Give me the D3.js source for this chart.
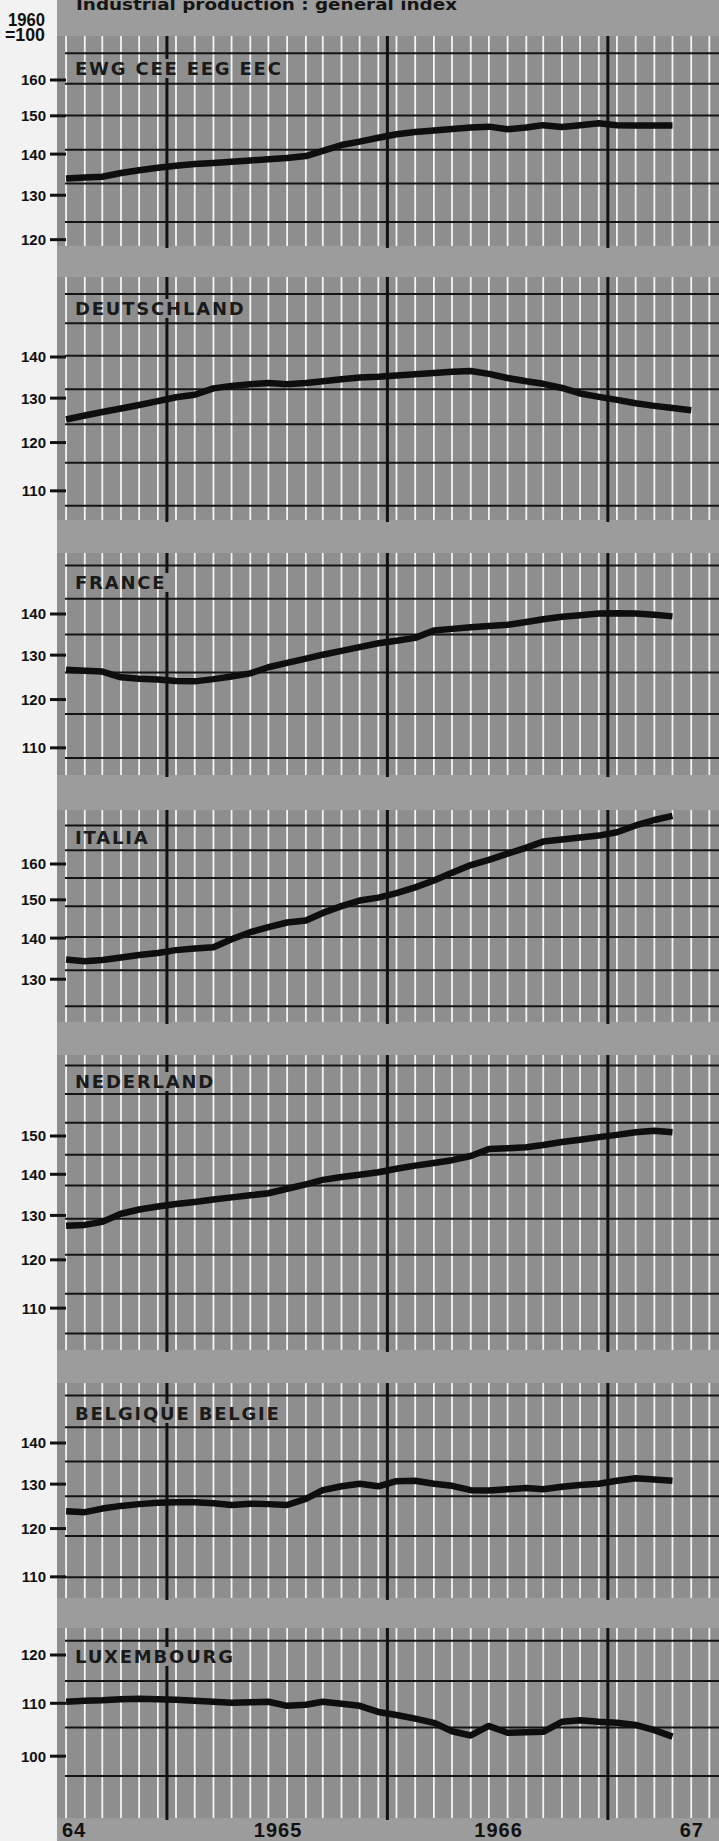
<!DOCTYPE html>
<html>
<head>
<meta charset="utf-8">
<script src="https://cdn.jsdelivr.net/npm/d3@7"></script>
<style>
  body { margin: 0; background: #f2f2f2; }
  svg { display: block; }
</style>
</head>
<body>
<div id="chart"></div>
<script>
// monthly index values, 1960 = 100, Jan 1964 onwards
var ewg = [134.0, 134.2, 134.4, 135.3, 136.0, 136.6, 137.1, 137.5, 137.8, 138.1, 138.4, 138.7,
           139.0, 139.5, 140.8, 142.3, 143.2, 144.2, 145.1, 145.7, 146.1, 146.5, 146.9, 147.1,
           146.4, 146.9, 147.5, 147.0, 147.5, 148.0, 147.5, 147.4, 147.4, 147.4];
var deutschland = [125.1, 126.0, 126.8, 127.6, 128.4, 129.3, 130.2, 130.8, 132.3, 132.9, 133.3, 133.6,
                   133.3, 133.6, 134.0, 134.5, 134.9, 135.1, 135.4, 135.7, 136.0, 136.3, 136.5, 135.8,
                   134.8, 134.0, 133.4, 132.4, 131.1, 130.3, 129.6, 128.8, 128.2, 127.7, 127.2];
var france = [126.6, 126.4, 126.2, 124.9, 124.6, 124.4, 124.1, 124.0, 124.5, 125.1, 125.8, 127.2,
              128.2, 129.2, 130.1, 131.0, 131.9, 132.8, 133.4, 134.1, 135.9, 136.3, 136.7, 137.0,
              137.3, 138.0, 138.7, 139.3, 139.7, 140.1, 140.2, 140.1, 139.8, 139.4];
var italia = [134.7, 134.3, 134.6, 135.2, 135.8, 136.3, 137.0, 137.4, 137.7, 139.7, 141.5, 142.8,
              144.0, 144.5, 146.5, 148.3, 149.8, 150.6, 151.8, 153.4, 155.3, 157.5, 159.7, 161.2,
              163.0, 164.8, 166.6, 167.2, 167.8, 168.4, 169.4, 171.5, 173.2, 174.5];
var nederland = [127.6, 127.8, 128.5, 130.4, 131.4, 132.1, 132.7, 133.2, 133.8, 134.3, 134.8, 135.3,
                 136.4, 137.5, 138.6, 139.3, 139.9, 140.5, 141.4, 142.2, 142.9, 143.6, 144.7, 146.5,
                 146.7, 147.0, 147.6, 148.4, 149.0, 149.7, 150.3, 151.0, 151.4, 151.0];
var belgique = [123.8, 123.6, 124.4, 125.0, 125.4, 125.7, 125.8, 125.8, 125.6, 125.2, 125.5, 125.4,
                125.2, 126.6, 128.6, 129.5, 130.1, 129.5, 130.7, 130.8, 130.1, 129.6, 128.6, 128.5,
                128.8, 129.1, 128.8, 129.4, 129.8, 130.1, 130.8, 131.4, 131.1, 130.8];
var luxembourg = [110.3, 110.5, 110.6, 110.8, 110.9, 110.8, 110.7, 110.5, 110.3, 110.1, 110.2, 110.3,
                  109.5, 109.7, 110.3, 109.9, 109.5, 108.3, 107.7, 107.0, 106.2, 104.6, 103.8, 105.6,
                  104.3, 104.4, 104.5, 106.4, 106.7, 106.4, 106.2, 105.8, 104.8, 103.6];

// tick labels on each panel
var ewgTicks = [160, 150, 140, 130, 120];
var deTicks = [140, 130, 120, 110];
var frTicks = [140, 130, 120, 110];
var itTicks = [160, 150, 140, 130];
var nlTicks = [150, 140, 130, 120, 110];
var beTicks = [140, 130, 120, 110];
var luTicks = [120, 110, 100];

// printed background rules (they do not sit on the ticks)
var ewgGrid = [167.9, 158.9, 150.1, 141.1, 132.8, 123.9];
var deGrid = [156.8, 148.8, 140.3, 132.1, 124.0, 115.7, 107.1];
var frGrid = [152.8, 143.9, 134.9, 126.0, 116.9, 108.0];
var itGrid = [171.5, 164.0, 156.0, 148.3, 140.3, 132.1, 123.8];
var nlGrid = [170.3, 161.8, 153.6, 145.0, 137.2, 129.2, 121.1, 112.9, 105.1];
var beGrid = [152.5, 144.0, 135.4, 127.2, 118.4, 109.9];
var luGrid = [123.1, 114.5, 105.3, 96.5];

var yearLabels = ["64", "1965", "1966", "67"];
var yearDates = [new Date(1964, 0, 1), new Date(1965, 0, 1), new Date(1966, 0, 1), new Date(1967, 0, 1)];
var midYears = [new Date(1964, 6, 1), new Date(1965, 6, 1), new Date(1966, 6, 1)];
var months = d3.range(36).map(m => new Date(1964, m, 16));

// layout of the seven strips
var panels = [
  {name: "EWG CEE EEG EEC", values: ewg, ticks: ewgTicks, grid: ewgGrid, top: 36, bottom: 246, ref: 160, refY: 80, labelY: 75},
  {name: "DEUTSCHLAND", values: deutschland, ticks: deTicks, grid: deGrid, top: 277, bottom: 520, ref: 140, refY: 357, labelY: 315},
  {name: "FRANCE", values: france, ticks: frTicks, grid: frGrid, top: 553, bottom: 775, ref: 140, refY: 614, labelY: 589},
  {name: "ITALIA", values: italia, ticks: itTicks, grid: itGrid, top: 810, bottom: 1022, ref: 160, refY: 864, labelY: 844},
  {name: "NEDERLAND", values: nederland, ticks: nlTicks, grid: nlGrid, top: 1055, bottom: 1350, ref: 150, refY: 1136, labelY: 1088},
  {name: "BELGIQUE BELGIE", values: belgique, ticks: beTicks, grid: beGrid, top: 1383, bottom: 1598, ref: 140, refY: 1443, labelY: 1420},
  {name: "LUXEMBOURG", values: luxembourg, ticks: luTicks, grid: luGrid, top: 1628, bottom: 1818, ref: 120, refY: 1655, labelY: 1663}
];

var svgWidth = 719;
var svgHeight = 1841;
var K = 555; // pixels per e-fold on the ratio scale

var narrow = "'Liberation Sans', Arial, sans-serif";
var wide = "'DejaVu Sans', Verdana, sans-serif";

var svg = d3.select("#chart")
  .append("svg")
  .attr("width", svgWidth)
  .attr("height", svgHeight);

var x = d3.scaleTime()
  .domain([new Date(1964, 0, 1), new Date(1967, 0, 1)])
  .range([57, 719]);

// paper
svg.append("rect")
  .attr("width", svgWidth).attr("height", svgHeight)
  .attr("fill", "#f2f2f2");
svg.append("rect")
  .attr("x", 57).attr("width", svgWidth - 57).attr("height", svgHeight)
  .attr("fill", "#9c9c9c");

// title, cut by the top edge as in the scan
svg.append("text")
  .attr("x", 76).attr("y", 10)
  .attr("textLength", 381).attr("lengthAdjust", "spacingAndGlyphs")
  .style("font-family", wide).style("font-weight", "bold").style("font-size", "16px")
  .attr("fill", "#151515")
  .text("Industrial production : general index");

svg.append("text")
  .attr("x", 8).attr("y", 26)
  .attr("textLength", 37).attr("lengthAdjust", "spacingAndGlyphs")
  .style("font-family", narrow).style("font-weight", "bold").style("font-size", "18px")
  .attr("fill", "#111")
  .text("1960");
svg.append("text")
  .attr("x", 5).attr("y", 41)
  .attr("textLength", 40).attr("lengthAdjust", "spacingAndGlyphs")
  .style("font-family", narrow).style("font-weight", "bold").style("font-size", "18px")
  .attr("fill", "#111")
  .text("=100");

panels.forEach(function(p) {
  var y = d3.scaleLog()
    .domain([80, 200])
    .range([p.refY - K * Math.log(80 / p.ref), p.refY - K * Math.log(200 / p.ref)]);

  var g = svg.append("g");

  g.append("rect")
    .attr("x", 57).attr("y", p.top)
    .attr("width", svgWidth - 57).attr("height", p.bottom - p.top)
    .attr("fill", "#8e8e8e");

  // white month rules
  g.selectAll(".month")
    .data(months)
    .enter()
    .append("line")
    .attr("x1", d => x(d)).attr("x2", d => x(d))
    .attr("y1", p.top).attr("y2", p.bottom)
    .attr("stroke", "#f4f4f4").attr("stroke-width", 1.8);

  // black horizontal rules
  g.selectAll(".rule")
    .data(p.grid)
    .enter()
    .append("line")
    .attr("x1", 65).attr("x2", svgWidth)
    .attr("y1", d => y(d)).attr("y2", d => y(d))
    .attr("stroke", "#141414").attr("stroke-width", 2);

  // panel name
  var label = g.append("text")
    .attr("x", 75).attr("y", p.labelY)
    .style("font-family", wide).style("font-weight", "bold").style("font-size", "18px")
    .style("letter-spacing", "1.8px")
    .attr("fill", "#1a1a1a")
    .text(p.name);
  var box = label.node().getBBox();

  // mid-year black rules, broken where they meet the name
  midYears.forEach(function(d) {
    var xx = x(d);
    var segs = [[p.top, p.bottom + 2]];
    if (xx > box.x - 3 && xx < box.x + box.width + 3) {
      segs = [[p.top, box.y + 1], [box.y + box.height - 1, p.bottom + 2]];
    }
    segs.forEach(function(s) {
      g.append("line")
        .attr("x1", xx).attr("x2", xx)
        .attr("y1", s[0]).attr("y2", s[1])
        .attr("stroke", "#111").attr("stroke-width", 3);
    });
  });

  // the series
  var line = d3.line()
    .x((d, i) => x(months[i]))
    .y(d => y(d));

  g.append("path")
    .datum(p.values)
    .attr("d", line)
    .attr("fill", "none")
    .attr("stroke", "#0e0e0e")
    .attr("stroke-width", 6.5)
    .attr("stroke-linejoin", "round");

  // ticks on the white margin
  g.selectAll(".tick")
    .data(p.ticks)
    .enter()
    .append("line")
    .attr("x1", 50).attr("x2", 66)
    .attr("y1", d => y(d)).attr("y2", d => y(d))
    .attr("stroke", "#111").attr("stroke-width", 3);

  g.selectAll(".ticklabel")
    .data(p.ticks)
    .enter()
    .append("text")
    .attr("x", 46).attr("y", d => y(d))
    .attr("dy", "0.36em")
    .attr("text-anchor", "end")
    .style("font-family", narrow).style("font-weight", "bold").style("font-size", "15px")
    .attr("fill", "#111")
    .text(d => d);
});

// years along the foot
var anchors = ["start", "middle", "middle", "end"];
var nudges = [5, 0, 0, -15];
svg.selectAll(".year")
  .data(yearLabels)
  .enter()
  .append("text")
  .attr("x", (d, i) => x(yearDates[i]) + nudges[i])
  .attr("y", 1837)
  .attr("text-anchor", (d, i) => anchors[i])
  .style("font-family", narrow).style("font-weight", "bold").style("font-size", "20px")
  .style("letter-spacing", "1px")
  .attr("fill", "#111")
  .text(d => d);
</script>
</body>
</html>
